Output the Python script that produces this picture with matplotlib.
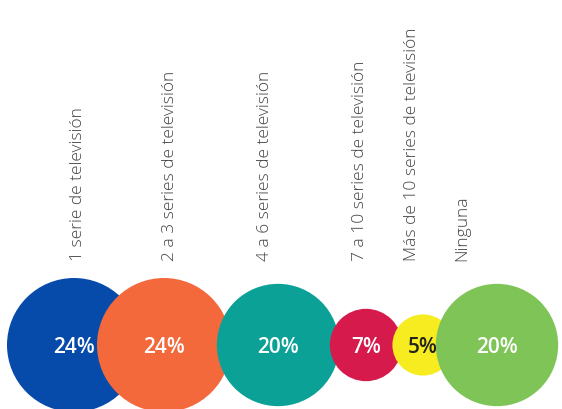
import numpy as np
import matplotlib
matplotlib.use("Agg")
import matplotlib.pyplot as plt
from matplotlib.patches import Circle

# Share of respondents by number of TV series followed
categories = [
    "1 serie de televisión",
    "2 a 3 series de televisión",
    "4 a 6 series de televisión",
    "7 a 10 series de televisión",
    "Más de 10 series de televisión",
    "Ninguna",
]
values = [24, 24, 20, 7, 5, 20]
value_labels = ["24%", "24%", "20%", "7%", "5%", "20%"]

colors = ["#074BAA", "#F4693C", "#0CA197", "#D71A4C", "#F7EC1F", "#7EC457"]
text_colors = ["white", "white", "white", "white", "#222222", "white"]

# layout (pixel units, y grows downward)
W, H = 562, 410
bubble_x = [74, 164, 278, 366, 423, 497]
bubble_y = 346
label_x = [78, 170, 265, 360, 412, 462]
label_base = 261
r_scale = 67 / np.sqrt(24)   # bubble area proportional to value

fig = plt.figure(figsize=(W / 100, H / 100), dpi=100)
ax = fig.add_axes([0, 0, 1, 1])
ax.set_xlim(0, W)
ax.set_ylim(H, 0)
ax.set_aspect("equal")
ax.axis("off")

# category labels, rotated
for x, name in zip(label_x, categories):
    ax.text(x, label_base, name, rotation=90, ha="center", va="bottom",
            fontsize=12.5, color="#444444", family="Open Sans", fontweight="light")

# bubbles, drawn left to right so each one sits over the previous
for i, (x, v) in enumerate(zip(bubble_x, values)):
    r = r_scale * np.sqrt(v)
    ax.add_patch(Circle((x, bubble_y), r, facecolor=colors[i], edgecolor="none", zorder=2 + i))

for i, (x, lab) in enumerate(zip(bubble_x, value_labels)):
    ax.text(x, bubble_y + 2, lab, ha="center", va="center", fontsize=15,
            color=text_colors[i], fontweight="semibold", family="Open Sans", zorder=20)

fig.savefig("out.png", dpi=100)
